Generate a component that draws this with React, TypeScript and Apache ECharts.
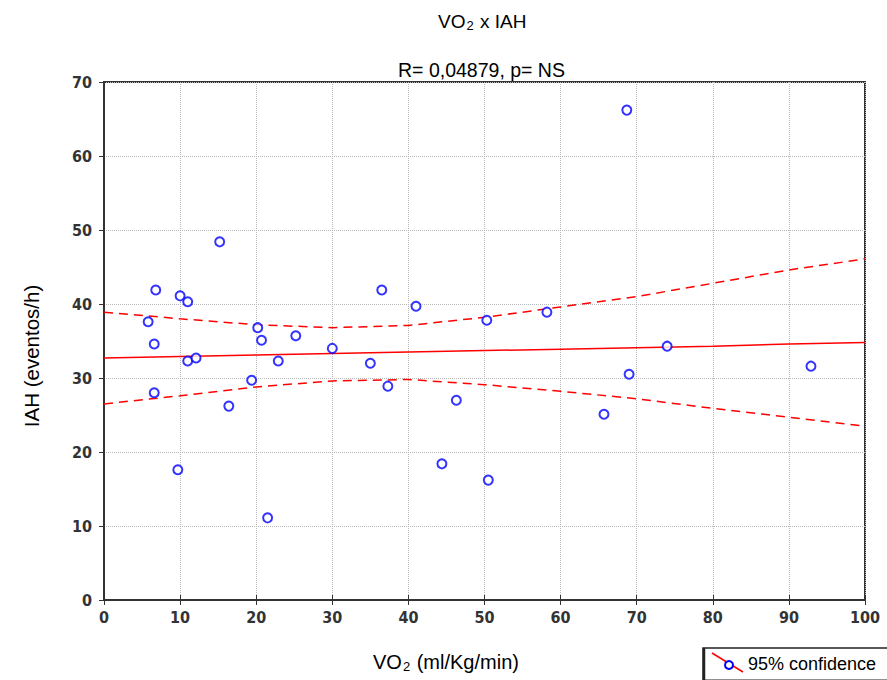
import React, { useEffect, useRef } from "react";
import * as echarts from "echarts";

const vo2: number[] = [5.8, 6.6, 6.8, 6.6, 10.0, 11.0, 9.7, 11.0, 12.1, 15.2, 16.4, 19.4, 20.2, 20.7, 21.5, 22.9, 25.2, 30.0, 35.0, 36.5, 37.3, 41.0, 44.4, 46.3, 50.3, 50.5, 58.2, 65.7, 68.7, 69.0, 74.0, 92.9];
const iah: number[] = [37.6, 34.6, 41.9, 28.0, 41.1, 40.3, 17.6, 32.3, 32.7, 48.4, 26.2, 29.7, 36.8, 35.1, 11.1, 32.3, 35.7, 34.0, 32.0, 41.9, 28.9, 39.7, 18.4, 27.0, 37.8, 16.2, 38.9, 25.1, 66.2, 30.5, 34.3, 31.6];

const fitX: number[] = [0, 10, 20, 30, 40, 50, 60, 70, 80, 90, 100];
const fitY: number[] = [32.7, 32.9, 33.1, 33.3, 33.5, 33.7, 33.9, 34.1, 34.3, 34.6, 34.8];
const upperY: number[] = [38.9, 38.0, 37.2, 36.8, 37.1, 38.2, 39.6, 41.0, 42.8, 44.6, 46.1];
const lowerY: number[] = [26.5, 27.6, 28.8, 29.6, 29.8, 29.1, 28.2, 27.2, 25.9, 24.7, 23.5];

const xTicks = { min: 0, max: 100, interval: 10 };
const yTicks = { min: 0, max: 70, interval: 10 };

const titleText = "{a|VO}{b|2}{a| x IAH}";
const subtitleText = "R= 0,04879, p= NS";
const xName = "{c|VO}{b|2}{c| (ml/Kg/min)}";
const yName = "IAH (eventos/h)";
const legendText = "95% confidence";

export default function App() {
  const ref = useRef<HTMLDivElement>(null);
  useEffect(() => {
    if (!ref.current) return;
    const chart = echarts.init(ref.current, undefined, { renderer: "svg" });
    const font = "Liberation Sans, Arial, sans-serif";
    const tickFont = "'Liberation Sans Narrow', 'DejaVu Sans Condensed', sans-serif";
    const pts = vo2.map((v, i) => [v, iah[i]]);
    const fit = fitX.map((v, i) => [v, fitY[i]]);
    const up = fitX.map((v, i) => [v, upperY[i]]);
    const lo = fitX.map((v, i) => [v, lowerY[i]]);
    const labelStyle = { color: "#333", fontSize: 16, fontWeight: "bold" as const, fontFamily: tickFont };
    const rich = {
      a: { fontSize: 19, fontFamily: font, color: "#000", lineHeight: 22, verticalAlign: "middle" },
      c: { fontSize: 20, fontFamily: font, color: "#000", lineHeight: 22, verticalAlign: "middle" },
      b: { fontSize: 13, fontFamily: font, color: "#000", lineHeight: 13, verticalAlign: "bottom", padding: [0, 1, 0, 1] },
    };
    chart.setOption({
      animation: false,
      backgroundColor: "#fff",
      grid: { left: 104, right: 22, top: 82, bottom: 80, show: true, borderColor: "#333", borderWidth: 2, backgroundColor: "transparent" },
      xAxis: [
        {
          type: "value", ...xTicks, position: "bottom",
          axisLine: { show: true, lineStyle: { color: "#333", width: 2 } },
          axisTick: { show: true, inside: true, length: 5, lineStyle: { color: "#333" } },
          axisLabel: { ...labelStyle, margin: 9 },
          splitLine: { show: true, lineStyle: { type: "dotted", color: "#b8b8b8", width: 1 } },
        },
        {
          type: "value", ...xTicks, position: "top",
          axisLine: { show: true, lineStyle: { color: "#333", width: 2 } },
          axisTick: { show: true, inside: true, length: 5, lineStyle: { color: "#333" } },
          axisLabel: { show: false },
          splitLine: { show: false },
        },
      ],
      yAxis: [
        {
          type: "value", ...yTicks, position: "left",
          axisLine: { show: true, lineStyle: { color: "#333", width: 2 } },
          axisTick: { show: true, inside: false, length: 4, lineStyle: { color: "#333" } },
          axisLabel: { ...labelStyle, margin: 12 },
          splitLine: { show: true, lineStyle: { type: "dotted", color: "#b8b8b8", width: 1 } },
        },
        {
          type: "value", ...yTicks, position: "right",
          axisLine: { show: true, lineStyle: { color: "#333", width: 2 } },
          axisTick: { show: true, inside: true, length: 5, lineStyle: { color: "#333" } },
          axisLabel: { show: false },
          splitLine: { show: false },
        },
      ],
      series: [
        {
          type: "line", data: up, symbol: "none", silent: true,
          lineStyle: { color: "#ff0000", width: 1.5, type: [9, 6] },
        },
        {
          type: "line", data: lo, symbol: "none", silent: true,
          lineStyle: { color: "#ff0000", width: 1.5, type: [9, 6] },
        },
        {
          type: "line", data: fit, symbol: "none", silent: true,
          lineStyle: { color: "#ff0000", width: 1.5 },
        },
        {
          type: "scatter", data: pts, symbol: "emptyCircle", symbolSize: 9,
          itemStyle: { color: "#0000ff", borderColor: "#0000ff", borderWidth: 2 },
          z: 5,
        },
      ],
      graphic: [
        { type: "text", x: 438, y: 21, z: 10, style: { text: titleText, rich, verticalAlign: "middle", align: "left" } },
        { type: "text", x: 398, y: 70, z: 10, style: { text: subtitleText, fill: "#000", font: `19.5px ${font}`, verticalAlign: "middle" } },
        { type: "text", x: 373, y: 662, z: 10, style: { text: xName, rich, verticalAlign: "middle", align: "left" } },
        { type: "text", x: 31, y: 356, rotation: Math.PI / 2, z: 10, style: { text: yName, fill: "#000", font: `20.5px ${font}`, align: "center", verticalAlign: "middle" } },
        {
          type: "group", x: 703, y: 648, z: 10,
          children: [
            { type: "rect", shape: { x: 0, y: 0, width: 190, height: 34 }, style: { fill: "#fff", stroke: "#222", lineWidth: 1.5 } },
            { type: "line", shape: { x1: 1, y1: 0, x2: 1, y2: 34 }, style: { stroke: "#222", lineWidth: 2.5 } },
            { type: "line", shape: { x1: 0, y1: 33, x2: 190, y2: 33 }, style: { stroke: "#222", lineWidth: 3 } },
            { type: "line", shape: { x1: 9, y1: 5, x2: 40, y2: 24 }, style: { stroke: "#ff0000", lineWidth: 1.5 } },
            { type: "circle", shape: { cx: 26, cy: 17, r: 4 }, style: { fill: "#fff", stroke: "#0000ff", lineWidth: 2 } },
            { type: "text", x: 45, y: 16, style: { text: legendText, fill: "#000", font: `18px ${font}`, verticalAlign: "middle" } },
          ],
        },
      ],
    });
    return () => chart.dispose();
  }, []);
  return <div ref={ref} style={{ position: "fixed", left: 0, top: 0, width: 887, height: 680 }} />;
}
